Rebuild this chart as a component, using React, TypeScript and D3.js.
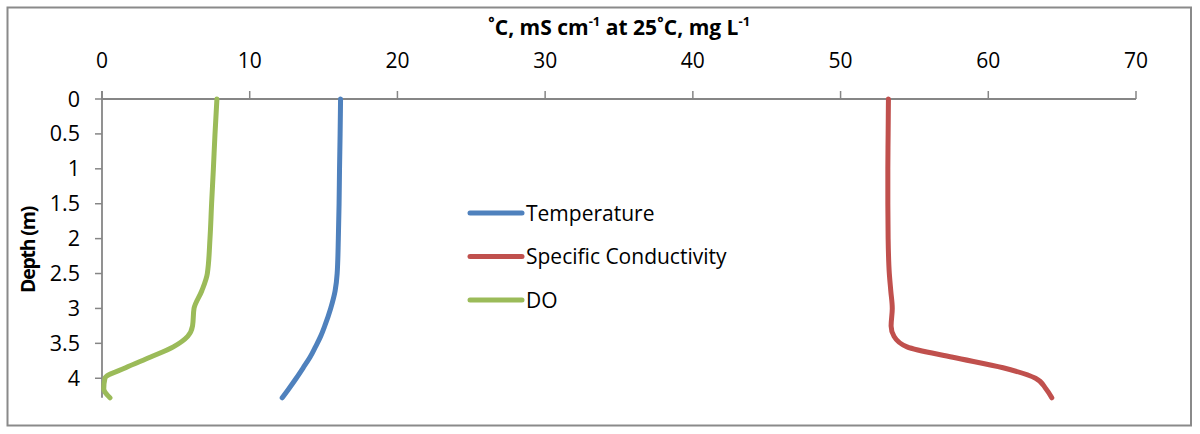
import React from "react";
import * as d3 from "d3";

const depths = [0, 0.5, 1, 1.5, 2, 2.5, 2.75, 3, 3.25, 3.4, 3.55, 3.7, 3.85, 4, 4.15, 4.28];
const temperature = [16.15, 16.12, 16.08, 16.05, 16.0, 15.92, 15.78, 15.48, 15.08, 14.8, 14.45, 14.08, 13.62, 13.15, 12.65, 12.2];
const conductivity = [53.24, 53.22, 53.2, 53.2, 53.22, 53.3, 53.4, 53.5, 53.42, 53.62, 54.5, 57.6, 61.0, 63.2, 63.9, 64.3];
const dissolvedOxygen = [7.78, 7.65, 7.54, 7.42, 7.31, 7.13, 6.75, 6.23, 6.13, 5.8, 4.83, 3.25, 1.6, 0.2, 0.12, 0.54];

const seriesNames = ["Temperature", "Specific Conductivity", "DO"];
const seriesColors = ["#4F81BD", "#C0504D", "#9BBB59"];
const xTicks = [0, 10, 20, 30, 40, 50, 60, 70];
const yTicks = [0, 0.5, 1, 1.5, 2, 2.5, 3, 3.5, 4];

export default function App() {
  const W = 1200, H = 434;
  const left = 102, right = 1136, top = 99, bottom = 397.8;
  const x = d3.scaleLinear().domain([0, 70]).range([left, right]);
  const y = d3.scaleLinear().domain([0, 4.28]).range([top, bottom]);
  const allSeries = [temperature, conductivity, dissolvedOxygen];
  const line = d3
    .line<[number, number]>()
    .x((d) => x(d[0]))
    .y((d) => y(d[1]))
    .curve(d3.curveMonotoneY);
  const font = "'Open Sans', 'Noto Sans', sans-serif";
  const axisColor = "#868686";

  return (
    <div style={{ position: "absolute", left: 0, top: 0 }}>
      <svg width={W} height={H} style={{ display: "block", background: "#fff" }}>
        <rect x={7.5} y={7.5} width={1183.5} height={418} fill="#fff" stroke="#8a8a8a" strokeWidth={2} />
        {/* title */}
        <text x={619} y={35} textAnchor="middle" fontFamily={font} fontWeight="bold" fontSize={21} fill="#000">
          ˚C, mS cm<tspan dy={-9} fontSize={13}>-1</tspan>
          <tspan dy={9}> at 25˚C, mg L</tspan>
          <tspan dy={-9} fontSize={13}>-1</tspan>
        </text>
        {/* y axis title */}
        <text
          transform={`translate(35,250) rotate(-90)`}
          textAnchor="middle"
          fontFamily={font}
          fontWeight="bold"
          fontSize={19.5}
          letterSpacing={-1.2}
          fill="#000"
        >
          Depth (m)
        </text>
        {/* x axis */}
        <line x1={left} x2={right} y1={top} y2={top} stroke={axisColor} strokeWidth={1.8} />
        {xTicks.map((t) => (
          <g key={"xt" + t}>
            <line x1={x(t)} x2={x(t)} y1={top - 8} y2={top} stroke={axisColor} strokeWidth={1.5} />
            <text x={x(t)} y={68} textAnchor="middle" fontFamily={font} fontSize={21} fill="#000">
              {t}
            </text>
          </g>
        ))}
        {/* y axis */}
        <line x1={left} x2={left} y1={top - 8} y2={bottom} stroke={axisColor} strokeWidth={1.8} />
        {yTicks.map((t) => (
          <g key={"yt" + t}>
            <line x1={left - 7} x2={left} y1={y(t)} y2={y(t)} stroke={axisColor} strokeWidth={1.5} />
            <text x={80} y={y(t) + 7.5} textAnchor="end" fontFamily={font} fontSize={21.5} fill="#000">
              {t}
            </text>
          </g>
        ))}
        {/* series */}
        {allSeries.map((vals, i) => (
          <path
            key={"s" + i}
            d={line(vals.map((v, j) => [v, depths[j]] as [number, number])) || ""}
            fill="none"
            stroke={seriesColors[i]}
            strokeWidth={5}
            strokeLinecap="round"
            strokeLinejoin="round"
          />
        ))}
        {/* legend */}
        {seriesNames.map((name, i) => (
          <g key={"lg" + i} transform={`translate(470,${213 + i * 43.5})`}>
            <line x1={0} x2={52} y1={0} y2={0} stroke={seriesColors[i]} strokeWidth={5} strokeLinecap="round" />
            <text x={56} y={7.5} fontFamily={font} fontSize={21} fill="#000">
              {name}
            </text>
          </g>
        ))}
      </svg>
    </div>
  );
}
